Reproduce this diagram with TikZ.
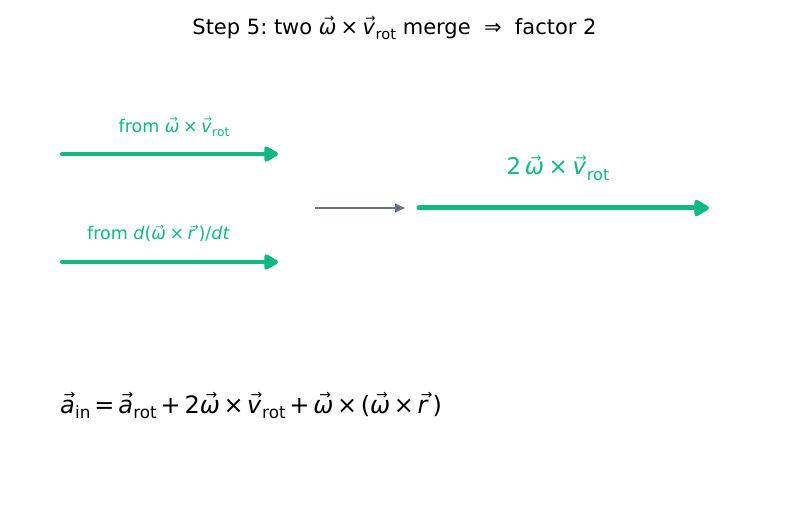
\documentclass[tikz,border=0pt]{standalone}
\usepackage{fontspec}
\usepackage{graphicx}
\setmainfont{DejaVu Sans}
\frenchspacing
\usetikzlibrary{arrows.meta}
\definecolor{emer}{HTML}{10B981}
\definecolor{slate}{HTML}{6B7280}
\newcommand{\vl}[1]{\ooalign{\textit{#1}\cr\hfil\kern0.14em\raisebox{0.56em}{\scalebox{0.58}{→}}\hfil}}
\newcommand{\sbs}[1]{\raisebox{-0.22em}{\scalebox{0.7}{#1}}}
\newcommand{\tms}{\kern0.2em×\kern0.2em}
\newcommand{\eqtms}{\kern0.15em×\kern0.15em}
\newcommand{\bop}[1]{\kern0.16em#1\kern0.16em}
\tikzset{
  txt/.style={inner sep=0pt, anchor=base},
  garrow/.style={emer, line width=4pt, line cap=round, -{Triangle[round,length=16pt,width=17pt]}},
  bigarrow/.style={emer, line width=5pt, line cap=round, -{Triangle[round,length=17pt,width=18pt]}},
  sarrow/.style={slate, line width=1.6pt, -{Triangle[length=10pt,width=9pt]}}
}
\begin{document}
\begin{tikzpicture}[x=1pt,y=-1pt]
\useasboundingbox (0,0) rectangle (787,513);
\node[txt, font=\fontsize{21}{25}\selectfont] (title) at (394.5,34.5) {Step 5: two \vl{ω}\tms\vl{v}\sbs{rot} merge\ \ ⇒\ \ factor 2};
\coordinate (a1s) at (62,154);
\coordinate (a1e) at (278,154);
\coordinate (a2s) at (62,262);
\coordinate (a2e) at (278,262);
\coordinate (gs) at (315,208);
\coordinate (ge) at (405,208);
\coordinate (bs) at (419,208);
\coordinate (be) at (709,208);
\draw[garrow] (a1s) -- (a1e);
\draw[garrow] (a2s) -- (a2e);
\draw[sarrow] (gs) -- (ge);
\draw[bigarrow] (bs) -- (be);
\node[txt, emer, font=\fontsize{17.5}{20}\selectfont] (l1) at (174,132.5) {from \vl{ω}\tms\vl{v}\sbs{rot}};
\node[txt, emer, font=\fontsize{17.5}{20}\selectfont] (l2) at (158.5,240) {from \textit{d}(\vl{ω}\tms\vl{r})/\textit{dt}};
\node[txt, emer, font=\fontsize{23}{27}\selectfont] (l3) at (558,175) {2\kern0.15em\vl{ω}\tms\vl{v}\sbs{rot}};
\node[txt, anchor=base west, font=\fontsize{24}{28}\selectfont] (eq) at (60,413) {\vl{a}\sbs{in}\bop{=}\vl{a}\sbs{rot}\bop{+}2\vl{ω}\eqtms\vl{v}\sbs{rot}\bop{+}\vl{ω}\eqtms(\vl{ω}\eqtms\vl{r})};
\end{tikzpicture}
\end{document}
